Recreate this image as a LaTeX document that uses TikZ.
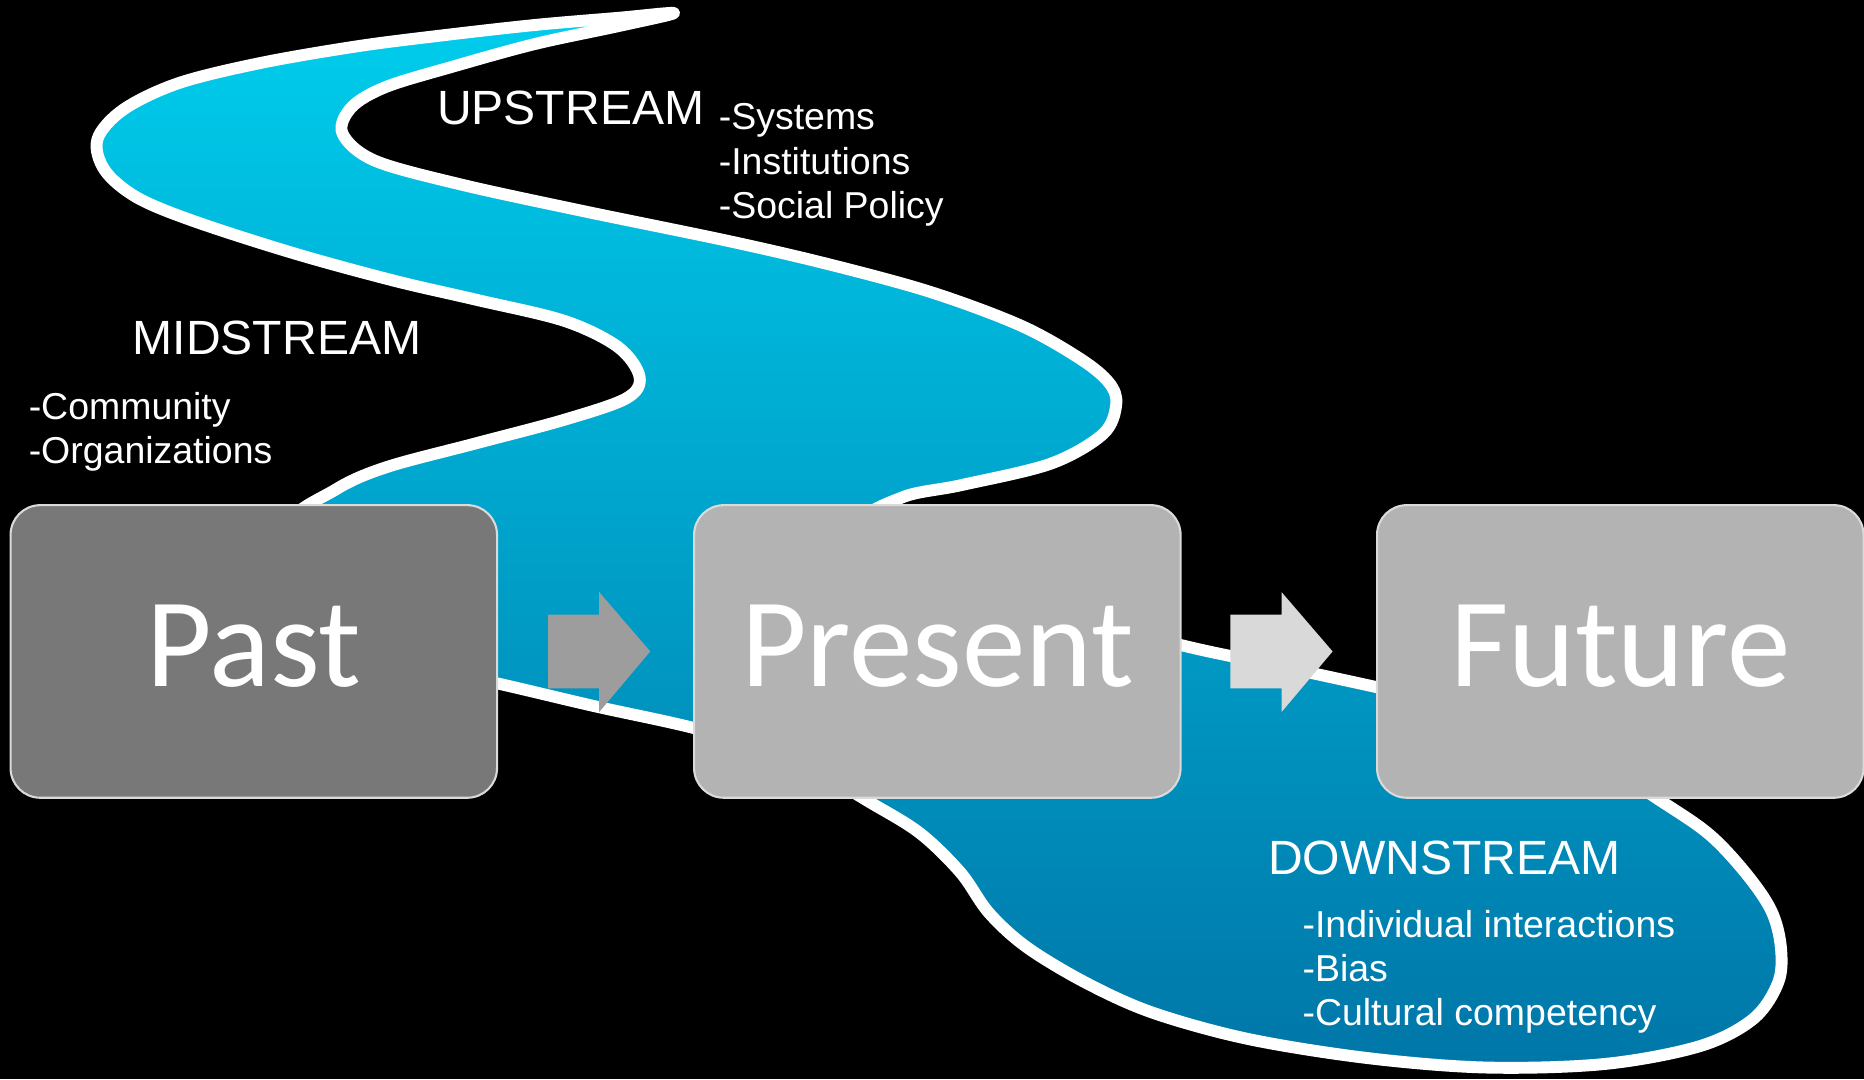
\documentclass[tikz,border=0pt]{standalone}
\usepackage{fontspec}
\setmainfont{Liberation Sans}
\newfontfamily\calib{Carlito}
\definecolor{rivtop}{RGB}{0,205,236}
\definecolor{rivbot}{RGB}{0,118,168}
\definecolor{pastgray}{RGB}{120,120,120}
\definecolor{boxgray}{RGB}{179,179,179}
\definecolor{bordergray}{RGB}{218,218,218}
\definecolor{arrowA}{RGB}{157,157,157}
\definecolor{arrowB}{RGB}{217,217,217}
\tikzset{
  boxnode/.style={draw=bordergray, line width=0.5pt, rounded corners=0.25cm,
    minimum width=4.09cm, minimum height=2.46cm, inner sep=0pt},
  boxtext/.style={text=white, font=\calib\fontsize{30.4pt}{36pt}\selectfont, anchor=base, inner sep=0pt},
  heading/.style={text=white, font=\fontsize{11.5pt}{13pt}\selectfont, anchor=base west, inner sep=0pt},
  item/.style={text=white, font=\fontsize{8.96pt}{10.7pt}\selectfont, anchor=base west, inner sep=0pt},
  riverline/.style={draw=white, line width=0.1cm, line join=round},
}
\begin{document}
\begin{tikzpicture}[x=0.01cm, y=-0.01cm]
\useasboundingbox (0,0) rectangle (1568,908);
\fill[black] (0,0) rectangle (1568,908);

% river
\shadedraw[top color=rivtop, bottom color=rivbot, riverline]
  plot[smooth cycle, tension=0.55] coordinates {
  (567,11) (520,15) (450,21) (370,30) (300,39) (219,53) (150,70) (104,92)
  (82,117) (88,143) (115,166) (163,186) (247,213) (331,236) (400,252)
  (475,270) (520,292) (538,317) (527,335) (475,353) (400,373) (325,393)
  (282,412) (240,445) (260,510) (340,558) (419,575) (500,594) (582,612)
  (660,634) (732,675) (774,701) (808,734) (832,768) (864,797) (914,827)
  (970,852) (1050,874) (1150,890) (1250,898) (1350,895) (1430,880)
  (1475,857) (1496,826) (1498,796) (1490,766) (1469,735) (1438,702)
  (1396,673) (1320,625) (1240,596) (1158,578) (1075,560) (995,543)
  (890,515) (800,470) (728,440) (760,418) (809,408) (884,390) (928,365)
  (939,340) (933,322) (909,302) (859,274) (784,246) (700,223) (614,203)
  (488,177) (387,155) (315,135) (288,112) (296,90) (325,73) (381,56)
  (450,37) (520,22)};

% boxes
\node[boxnode, fill=pastgray] (past) at (213.5,548) {};
\node[boxnode, fill=boxgray] (present) at (788.5,548) {};
\node[boxnode, fill=boxgray] (future) at (1363,548) {};
\node[boxtext] (pastt) at (213.5,577.6) {Past};
\node[boxtext] (presentt) at (788.5,577.6) {Present};
\node[boxtext] (futuret) at (1363,577.6) {Future};

% block arrows
\fill[arrowA] (461,517) -- (504,517) -- (504,498) -- (547,548) -- (504,599) -- (504,579) -- (461,579) -- cycle;
\fill[arrowB] (1035,517) -- (1078,517) -- (1078,498) -- (1121,548) -- (1078,599) -- (1078,579) -- (1035,579) -- cycle;

% texts
\node[heading] (up) at (367,104.5) {UPSTREAM};
\node[item] (up1) at (604,108.6) {-Systems};
\node[item] (up2) at (604,147) {-Institutions};
\node[item] (up3) at (604,184) {-Social Policy};

\node[heading] (mid) at (111,298) {MIDSTREAM};
\node[item] (mid1) at (23.5,353) {-Community};
\node[item] (mid2) at (23.5,390) {-Organizations};

\node[heading] (down) at (1066,735.5) {DOWNSTREAM};
\node[item] (down1) at (1095,788.5) {-Individual interactions};
\node[item] (down2) at (1095,826) {-Bias};
\node[item] (down3) at (1095,863) {-Cultural competency};
\end{tikzpicture}
\end{document}
